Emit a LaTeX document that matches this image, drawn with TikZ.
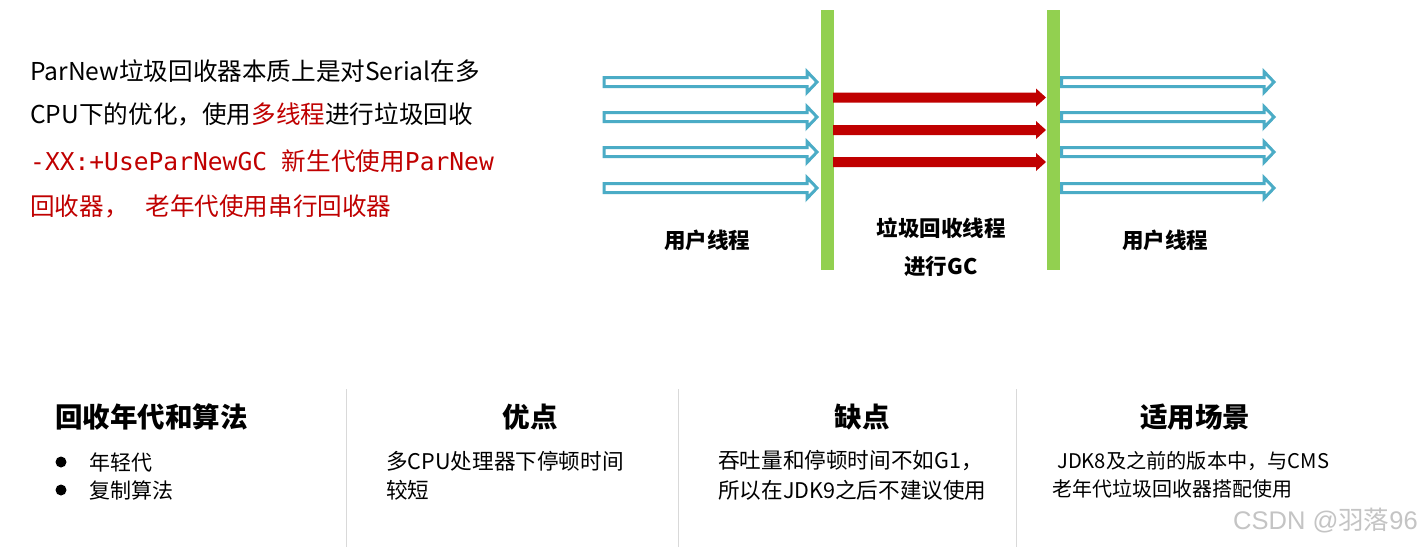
\documentclass[tikz,border=0pt]{standalone}
\usepackage{fontspec}
\setmainfont{Noto Sans CJK SC}
\newfontfamily\monof{DejaVu Sans Mono}
\newfontfamily\wmfont{Liberation Sans}
\definecolor{arrblue}{HTML}{4BACC6}
\definecolor{gcred}{HTML}{C00000}
\definecolor{bargreen}{HTML}{92D050}
\definecolor{sepgray}{HTML}{D9D9D9}
\definecolor{wmgray}{HTML}{C4C4C4}
\newcommand\hollowarr[3]{%
  \draw[hollowstyle] (#1,#3-4.5) -- (#2-10,#3-4.5) -- (#2-10,#3-10.5) -- (#2,#3)
    -- (#2-10,#3+10.5) -- (#2-10,#3+4.5) -- (#1,#3+4.5) -- cycle;}
\newcommand\solidarr[3]{%
  \fill[gcred] (#1,#3-5) -- (#2-10,#3-5) -- (#2-10,#3-9) -- (#2,#3)
    -- (#2-10,#3+9) -- (#2-10,#3+5) -- (#1,#3+5) -- cycle;}
\tikzset{
  hollowstyle/.style={draw=arrblue, line width=3pt, line join=miter, fill=white},
  lefttxt/.style={anchor=west, inner sep=0pt, font=\fontsize{24.6}{24.6}\selectfont},
  lbl/.style={inner sep=0pt, font=\fontsize{21.5}{21.5}\selectfont\bfseries},
  headtxt/.style={inner sep=0pt, font=\fontsize{27.5}{27.5}\selectfont\bfseries},
  bodytxt/.style={anchor=west, inner sep=0pt},
  sepline/.style={draw=sepgray, line width=1pt},
  bulletdot/.style={circle, fill=black, inner sep=0pt, minimum size=11pt},
}
\begin{document}
\begin{tikzpicture}[x=1pt, y=-1pt]
\useasboundingbox (0,0) rectangle (1422,547);
\fill[white] (0,0) rectangle (1422,547);

% left description
\node[lefttxt] (l1) at (30,71) {ParNew垃圾回收器本质上是对Serial在多};
\node[lefttxt] (l2) at (30,114) {CPU下的优化，使用\textcolor{gcred}{多线程}进行垃圾回收};
\node[lefttxt, text=gcred] (l3) at (30,161) {{\monof -XX:+UseParNewGC\ }新生代使用{\monof ParNew}};
\node[lefttxt, text=gcred] (l4) at (30,206) {回收器，\hspace{17pt}老年代使用串行回收器};

% green bars
\fill[bargreen] (821,10) rectangle (834,270);
\fill[bargreen] (1047,10) rectangle (1060,270);

% user thread arrows (left)
\foreach \yy in {82,117,152,188} { \hollowarr{604}{817}{\yy} }
% gc arrows
\foreach \yy in {97.5,130,162} { \solidarr{833}{1046}{\yy} }
% user thread arrows (right)
\foreach \yy in {82,117,152,188} { \hollowarr{1061.5}{1274}{\yy} }

% diagram labels
\node[lbl] (u1) at (707,240) {用户线程};
\node[lbl] (gc1) at (941,228) {垃圾回收线程};
\node[lbl] (gc2) at (941,266) {进行GC};
\node[lbl] (u2) at (1165,240) {用户线程};

% separators
\draw[sepline] (346.5,389) -- (346.5,547);
\draw[sepline] (678,389) -- (678,547);
\draw[sepline] (1016,389) -- (1016,547);

% headings
\node[headtxt, anchor=west] (h1) at (55,417) {回收年代和算法};
\node[headtxt] (h2) at (530,417) {优点};
\node[headtxt] (h3) at (862,417) {缺点};
\node[headtxt] (h4) at (1195,417) {适用场景};

% column 1
\node[bulletdot] (d1) at (61,462) {};
\node[bulletdot] (d2) at (61,490) {};
\node[bodytxt, font=\fontsize{21}{21}\selectfont] (b1) at (89,462) {年轻代};
\node[bodytxt, font=\fontsize{21}{21}\selectfont] (b2) at (89,490) {复制算法};

% column 2
\node[bodytxt, font=\fontsize{21.6}{21.6}\selectfont] (p1) at (386,461) {多CPU处理器下停顿时间};
\node[bodytxt, font=\fontsize{21.6}{21.6}\selectfont] (p2) at (386,490) {较短};

% column 3
\node[bodytxt, font=\fontsize{21.6}{21.6}\selectfont] (c1) at (718,461) {吞吐量和停顿时间不如G1，};
\node[bodytxt, font=\fontsize{21.6}{21.6}\selectfont] (c2) at (718,490) {所以在JDK9之后不建议使用};

% column 4
\node[bodytxt, font=\fontsize{20.2}{20.2}\selectfont] (s1) at (1057,461) {JDK8及之前的版本中，与CMS};
\node[bodytxt, font=\fontsize{20}{20}\selectfont] (s2) at (1052,489) {老年代垃圾回收器搭配使用};

% watermark
\node[anchor=east, inner sep=0pt, text=wmgray, font=\fontsize{25.5}{25.5}\selectfont] (wm) at (1418,521) {{\wmfont CSDN @}羽落{\wmfont 96}};
\end{tikzpicture}
\end{document}
